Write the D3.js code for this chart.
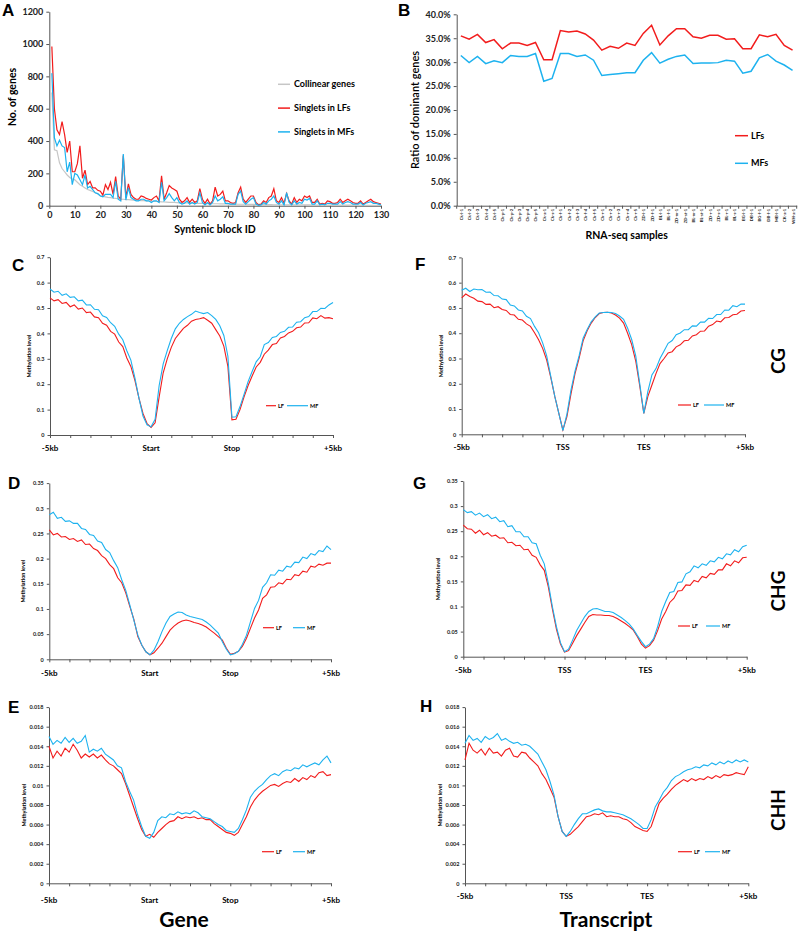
<!DOCTYPE html>
<html><head><meta charset="utf-8">
<script src="https://cdn.jsdelivr.net/npm/d3@7"></script>
<style>
body{margin:0;background:#fff}
text{font-family:Lato,'Open Sans',sans-serif}
.pl{font-family:'Liberation Sans',Arial,sans-serif;font-weight:bold;font-size:17px}
</style>
</head><body>
<svg id="c" width="800" height="932"></svg>
<script>
// ---------- Panel A data ----------
const blockIds = d3.range(1, 131);
const aXTicks = [0,10,20,30,40,50,60,70,80,90,100,110,120,130];
const aYTicks = [0,200,400,600,800,1000,1200];
const aCollinear = [700,345,340,265,230,210,190,175,165,160, 145,130,120,110,100,95,88,80,72,62,
 58,55,52,50,47,45,43,41,40,38, 37,36,35,34,33,32,31,30,29,28, 27,26,25,24,23,22,21,20,20,19,
 18,18,17,17,16,16,15,15,14,14, 13,13,13,12,12,12,11,11,11,10, 10,10,10,9,9,9,9,8,8,8,
 8,8,7,7,7,7,7,6,6,6, 6,6,6,6,5,5,5,5,5,5, 5,5,4,4,4,4,4,4,4,4, 4,3,3,3,3,3,3,3,3,3, 3,3,2,2,2,2,2,2,2,2];
const aLF = [985,600,470,440,520,440,330,400,210,210, 260,370,170,220,130,150,110,110,95,90,
 65,130,100,145,70,180,60,40,310,50, 135,70,50,40,40,60,55,45,40,35, 50,60,30,185,40,80,125,110,100,90,
 40,20,30,50,20,40,20,30,105,40, 15,40,10,30,115,60,70,90,30,30, 20,15,20,80,115,40,20,40,60,60,
 20,5,10,30,20,50,60,105,30,20, 50,15,75,30,10,50,20,40,30,60, 50,60,20,20,40,10,15,10,30,25,
 15,15,20,40,20,30,40,30,20,15, 15,30,10,20,30,40,25,20,15,10];
const aMF = [820,420,370,405,370,360,210,270,130,200, 190,160,130,190,110,120,100,80,75,60,
 55,70,70,70,50,150,40,30,320,35, 110,50,40,30,30,40,40,30,30,20, 30,30,20,145,30,50,75,50,30,50,
 20,10,15,30,10,20,10,20,80,20, 5,20,5,20,60,30,40,55,15,15, 10,10,10,70,90,25,10,25,40,50,
 10,2,5,20,10,30,40,60,20,10, 30,5,80,20,5,30,10,20,15,40, 35,45,10,10,30,5,10,5,15,15,
 10,10,10,25,10,20,25,20,10,10, 10,20,5,15,20,25,15,15,10,5];
const aSeriesNames = ["Collinear genes","Singlets in LFs","Singlets in MFs"];

// ---------- Panel B data ----------
const samples = ["Ck-l-1","Ck-l-2","Ck-l-3","Ck-l-4","Ck-l-5","Ck-p-1","Ck-p-2","Ck-p-3","Ck-p-4","Ck-p-5",
 "Ck-a-1","Ck-s-1","Ck-f-1","Ck-f-2","Ck-f-3","Ck-f-4","Ck-f-5","Ck-r-1","Ck-r-2","Ck-r-3",
 "Ck-r-4","Ck-r-5","ZD-l-1","ZD-f-1","BL-l-1","BL-f-1","ZD-m-1","ZD-st-1","BL-m-1","BL-st-1",
 "ZD-r-1","ZD-s-1","BL-r-1","BL-s-1","BG-l-1","DB-l-1","BG-f-1","DB-f-1","MB-l-1","CK-a-1","WH-a-1"];
const bLF = [35.5,34.8,35.8,34.1,34.7,32.8,34.0,34.0,33.5,34.1, 30.5,30.5,36.6,36.3,36.5,35.9,34.6,32.5,33.3,32.9,
 34.0,33.5,36.0,37.7,33.6,35.5,37.0,37.0,35.3,35.0, 35.6,35.6,34.8,34.9,32.8,32.8,35.7,35.3,35.8,33.5, 32.5];
const bMF = [31.4,29.9,31.2,29.7,30.3,29.9,31.4,31.2,31.2,31.8, 26.0,26.6,31.8,31.8,31.2,31.5,30.4,27.2,27.4,27.6,
 27.8,27.8,30.4,32.0,29.8,30.6,31.2,31.5,29.7,29.8, 29.8,29.9,30.4,30.2,27.7,28.1,30.9,31.6,30.2,29.4, 28.3];
const bYTicks = [0,5,10,15,20,25,30,35,40];
const bSeriesNames = ["LFs","MFs"];

// ---------- Methylation profiles (bins 0..140, every 2 bins) ----------
const binPos = d3.range(0, 141, 2);
const methXTicks = d3.range(0, 141, 10);
const geneLabels = ["-5kb","Start","Stop","+5kb"];
const transLabels = ["-5kb","TSS","TES","+5kb"];
const labelPos = [0, 50, 90, 140];
const cgTicks = [0,0.1,0.2,0.3,0.4,0.5,0.6,0.7];
const cgTickLabels = ["0","0.1","0.2","0.3","0.4","0.5","0.6","0.7"];
const chgTicks = [0,0.05,0.1,0.15,0.2,0.25,0.3,0.35];
const chgTickLabels = ["0","0.05","0.1","0.15","0.2","0.25","0.3","0.35"];
const chhTicks = [0,0.002,0.004,0.006,0.008,0.01,0.012,0.014,0.016,0.018];
const chhTickLabels = ["0","0.002","0.004","0.006","0.008","0.01","0.012","0.014","0.016","0.018"];

const cGeneLF = [.540,.528,.533,.518,.522,.505,.512,.496,.500,.482, .484,.465,.462,.440,.432,.408,.397,.366,.348,.303,
 .270,.215,.145,.085,.045,.030,.048,.150,.245,.300, .345,.380,.400,.420,.432,.448,.455,.458,.462,.452,
 .440,.415,.390,.350,.270,.060,.062,.100,.150,.195, .232,.268,.286,.318,.334,.356,.360,.382,.388,.402,
 .408,.422,.425,.441,.442,.461,.458,.470,.460,.462, .458];
const cGeneMF = [.575,.562,.566,.550,.556,.542,.544,.528,.531,.512, .513,.495,.493,.469,.463,.442,.428,.397,.375,.332,
 .295,.225,.145,.075,.040,.032,.062,.195,.280,.332, .380,.418,.440,.455,.466,.475,.488,.482,.478,.482,
 .470,.455,.430,.392,.310,.070,.072,.112,.160,.210, .250,.288,.308,.356,.364,.384,.388,.404,.408,.424,
 .425,.444,.446,.462,.466,.486,.486,.499,.498,.512, .522];
const fTransLF = [.540,.555,.545,.538,.527,.525,.514,.515,.501,.505, .494,.490,.474,.472,.455,.452,.437,.427,.402,.374,
 .340,.294,.225,.150,.083,.017,.070,.160,.240,.300, .370,.410,.440,.462,.478,.482,.483,.480,.472,.460,
 .440,.400,.355,.290,.190,.083,.150,.195,.240,.280, .300,.322,.327,.346,.354,.370,.372,.389,.394,.408,
 .409,.428,.434,.448,.445,.461,.462,.473,.475,.488, .490];
const fTransMF = [.570,.578,.565,.575,.572,.573,.562,.563,.549,.548, .535,.533,.512,.508,.492,.488,.467,.458,.427,.402,
 .362,.310,.230,.150,.083,.015,.080,.175,.250,.310, .380,.415,.445,.465,.480,.482,.483,.482,.478,.468,
 .455,.420,.375,.310,.200,.083,.170,.235,.260,.300, .330,.360,.371,.394,.401,.414,.414,.429,.428,.444,
 .444,.459,.458,.474,.474,.492,.491,.509,.505,.515, .515];
const dGeneLF = [.257,.247,.250,.243,.244,.238,.240,.234,.237,.228, .229,.220,.216,.206,.200,.188,.180,.162,.152,.132,
 .105,.080,.045,.028,.015,.009,.013,.022,.032,.045, .058,.066,.072,.076,.078,.076,.073,.071,.068,.064,
 .058,.052,.045,.038,.022,.010,.012,.016,.026,.042, .062,.082,.098,.121,.128,.143,.144,.152,.150,.159,
 .158,.168,.166,.175,.173,.185,.183,.189,.187,.191, .191];
const dGeneMF = [.287,.292,.280,.282,.274,.275,.270,.270,.260,.258, .248,.246,.235,.232,.218,.212,.196,.182,.158,.137,
 .108,.078,.048,.028,.015,.009,.018,.035,.055,.072, .085,.090,.094,.093,.088,.085,.083,.081,.079,.074,
 .068,.060,.052,.035,.020,.009,.011,.016,.030,.048, .075,.101,.117,.143,.152,.168,.167,.177,.175,.185,
 .183,.193,.192,.203,.200,.210,.207,.216,.214,.225, .218];
const gTransLF = [.262,.255,.254,.246,.252,.243,.247,.240,.242,.236, .237,.227,.228,.221,.222,.213,.214,.202,.198,.183,
 .172,.139,.095,.055,.025,.009,.012,.027,.042,.055, .068,.080,.084,.083,.083,.082,.082,.080,.076,.071,
 .066,.060,.053,.040,.025,.017,.022,.033,.052,.075, .090,.108,.116,.131,.132,.143,.142,.152,.149,.160,
 .157,.166,.164,.173,.173,.185,.181,.191,.187,.197, .198];
const gTransMF = [.293,.287,.289,.282,.286,.279,.283,.275,.278,.269, .271,.259,.261,.249,.249,.239,.239,.227,.225,.202,
 .185,.146,.100,.060,.028,.010,.015,.033,.052,.066, .080,.090,.095,.096,.093,.090,.090,.088,.083,.078,
 .072,.065,.055,.042,.030,.020,.025,.036,.060,.090, .110,.128,.130,.148,.149,.165,.169,.181,.177,.185,
 .182,.191,.189,.198,.195,.205,.203,.213,.209,.219, .222];
const eGeneLF = [.0140,.0128,.0135,.0130,.0138,.0134,.0142,.0136,.0128,.0132, .0129,.0132,.0128,.0131,.0126,.0122,.0120,.0116,.0112,.0102,
 .0090,.0078,.0066,.0055,.0048,.0050,.0047,.0052,.0056,.0060, .0063,.0064,.0068,.0066,.0068,.0067,.0068,.0066,.0067,.0065,
 .0065,.0061,.0058,.0055,.0052,.0051,.0049,.0052,.0060,.0068, .0078,.0085,.0090,.0094,.0097,.0100,.0101,.0099,.0102,.0104,
 .0103,.0107,.0104,.0108,.0106,.0110,.0108,.0113,.0114,.0110, .0111];
const eGeneMF = [.0150,.0142,.0146,.0143,.0149,.0144,.0148,.0143,.0145,.0151, .0134,.0137,.0135,.0138,.0132,.0129,.0126,.0120,.0118,.0104,
 .0094,.0085,.0070,.0058,.0048,.0046,.0052,.0064,.0068,.0067, .0071,.0070,.0073,.0071,.0072,.0071,.0074,.0072,.0068,.0067,
 .0066,.0063,.0060,.0058,.0054,.0053,.0052,.0056,.0065,.0075, .0088,.0094,.0098,.0101,.0106,.0110,.0112,.0110,.0114,.0116,
 .0115,.0118,.0117,.0121,.0119,.0121,.0123,.0121,.0126,.0130, .0123];
const hTransLF = [.0126,.0143,.0136,.0133,.0137,.0131,.0138,.0133,.0134,.0130, .0136,.0138,.0130,.0129,.0134,.0133,.0128,.0124,.0120,.0112,
 .0106,.0097,.0088,.0068,.0053,.0048,.0050,.0054,.0058,.0063, .0068,.0069,.0071,.0070,.0072,.0068,.0069,.0068,.0068,.0066,
 .0065,.0062,.0058,.0056,.0054,.0053,.0058,.0070,.0082,.0087, .0091,.0096,.0100,.0103,.0106,.0104,.0107,.0105,.0107,.0106,
 .0109,.0107,.0110,.0108,.0111,.0110,.0111,.0113,.0112,.0111, .0119];
const hTransMF = [.0143,.0151,.0146,.0148,.0144,.0150,.0147,.0149,.0153,.0146, .0148,.0145,.0143,.0144,.0141,.0142,.0140,.0136,.0132,.0124,
 .0116,.0104,.0090,.0068,.0053,.0048,.0053,.0060,.0066,.0071, .0071,.0073,.0075,.0076,.0074,.0073,.0073,.0072,.0071,.0070,
 .0068,.0066,.0063,.0060,.0056,.0056,.0065,.0078,.0085,.0093, .0098,.0105,.0109,.0111,.0114,.0116,.0117,.0119,.0118,.0121,
 .0120,.0123,.0121,.0124,.0122,.0125,.0123,.0126,.0124,.0126, .0124];
const methSeriesNames = ["LF","MF"];

// ---------- drawing ----------
const RED = "#f21c1c", BLUE = "#1db2ef", GRAY = "#c6c6c6", AX = "#555";
const svg = d3.select("#c");

function styleAxis(g, fs, weight) {
  g.select(".domain").attr("stroke", AX).attr("stroke-width", 1);
  g.selectAll(".tick line").attr("stroke", AX);
  g.selectAll(".tick text").attr("font-size", fs).attr("font-weight", weight || "bold")
    .attr("font-family", "Lato,'Open Sans',sans-serif").attr("fill", "#222");
}

// Panel A
(function () {
  const x = d3.scaleLinear().domain([0, 130]).range([49.3, 381]);
  const y = d3.scaleLinear().domain([0, 1200]).range([205.7, 11.7]);
  const g = svg.append("g");
  const gx = g.append("g").attr("transform", "translate(0,205.7)")
    .call(d3.axisBottom(x).tickValues(aXTicks).tickFormat(d3.format("d")).tickSize(3).tickSizeOuter(0).tickPadding(3));
  styleAxis(gx, 9);
  const gy = g.append("g").attr("transform", "translate(49.3,0)")
    .call(d3.axisLeft(y).tickValues(aYTicks).tickFormat(d3.format("d")).tickSize(3).tickSizeOuter(0).tickPadding(3));
  styleAxis(gy, 9);
  const line = d3.line().x((d, i) => x(blockIds[i])).y(d => y(d));
  [[aCollinear, GRAY], [aLF, RED], [aMF, BLUE]].forEach(([data, c]) => {
    g.append("path").datum(data).attr("d", line).attr("fill", "none").attr("stroke", c).attr("stroke-width", 1.2);
  });
  g.append("text").attr("transform", "translate(16,97) rotate(-90)").attr("text-anchor", "middle")
    .attr("font-size", 10.5).attr("font-weight", "bold").text("No. of genes");
  g.append("text").attr("x", 215).attr("y", 233).attr("text-anchor", "middle")
    .attr("font-size", 10.5).attr("font-weight", "bold").text("Syntenic block ID");
  const cols = [GRAY, RED, BLUE];
  aSeriesNames.forEach((n, i) => {
    const yy = 84.3 + i * 23.8;
    g.append("line").attr("x1", 278).attr("x2", 290).attr("y1", yy).attr("y2", yy).attr("stroke", cols[i]).attr("stroke-width", 1.5);
    g.append("text").attr("x", 294).attr("y", yy + 3).attr("font-size", 9).attr("font-weight", "bold").text(n);
  });
  svg.append("text").attr("class", "pl").attr("x", 2).attr("y", 16).text("A");
})();

// Panel B
(function () {
  const x = d3.scalePoint().domain(d3.range(samples.length)).range([456.7, 796.7]).padding(0.5);
  const y = d3.scaleLinear().domain([0, 40]).range([205.7, 14.3]);
  const g = svg.append("g");
  const gy = g.append("g").attr("transform", "translate(456.7,0)")
    .call(d3.axisLeft(y).tickValues(bYTicks).tickFormat(d => d.toFixed(1) + "%").tickSize(3).tickSizeOuter(0).tickPadding(3));
  styleAxis(gy, 9);
  const gx = g.append("g").attr("transform", "translate(0,205.7)")
    .call(d3.axisBottom(x).tickFormat(i => samples[i]).tickSize(0).tickSizeOuter(0));
  styleAxis(gx, 4.2);
  gx.selectAll(".tick text").attr("transform", "rotate(-90)").attr("text-anchor", "end")
    .attr("x", -3).attr("y", 0).attr("dy", "0.35em");
  const step = x.step();
  g.selectAll(".btick").data(d3.range(samples.length + 1)).join("line")
    .attr("x1", i => x.range()[0] + i * step).attr("x2", i => x.range()[0] + i * step)
    .attr("y1", 205.7).attr("y2", 208.7).attr("stroke", AX);
  const line = d3.line().x((d, i) => x(i)).y(d => y(d));
  [[bLF, RED], [bMF, BLUE]].forEach(([data, c]) => {
    g.append("path").datum(data).attr("d", line).attr("fill", "none").attr("stroke", c).attr("stroke-width", 1.5);
  });
  g.append("text").attr("transform", "translate(419,110) rotate(-90)").attr("text-anchor", "middle")
    .attr("font-size", 11).attr("font-weight", 600).text("Ratio of dominant genes");
  g.append("text").attr("x", 626.7).attr("y", 239).attr("text-anchor", "middle")
    .attr("font-size", 10.5).attr("font-weight", "bold").text("RNA-seq samples");
  [RED, BLUE].forEach((c, i) => {
    const yy = 135.7 + i * 27.6;
    g.append("line").attr("x1", 735).attr("x2", 748).attr("y1", yy).attr("y2", yy).attr("stroke", c).attr("stroke-width", 1.5);
    g.append("text").attr("x", 751).attr("y", yy + 3).attr("font-size", 9).attr("font-weight", "bold").text(bSeriesNames[i]);
  });
  svg.append("text").attr("class", "pl").attr("x", 398).attr("y", 16).text("B");
})();

function methPanel(o) {
  const x = d3.scaleLinear().domain([0, 140]).range([o.x0, o.x1]);
  const y = d3.scaleLinear().domain([0, o.ticks[o.ticks.length - 1]]).range([o.y0, o.yTop]);
  const g = svg.append("g");
  const gy = g.append("g").attr("transform", `translate(${o.x0},0)`)
    .call(d3.axisLeft(y).tickValues(o.ticks).tickFormat((d, i) => o.tickLabels[i]).tickSize(2.5).tickSizeOuter(0).tickPadding(3));
  styleAxis(gy, 5.5);
  const gx = g.append("g").attr("transform", `translate(0,${o.y0})`)
    .call(d3.axisBottom(x).tickValues(methXTicks).tickFormat("").tickSize(3).tickSizeOuter(0));
  styleAxis(gx, 5);
  g.selectAll(".xl").data(o.xLabels).join("text")
    .attr("x", (d, i) => x(labelPos[i])).attr("y", o.y0 + o.labDy).attr("text-anchor", "middle")
    .attr("font-size", 8).attr("font-weight", "bold").text(d => d);
  const line = d3.line().x((d, i) => x(binPos[i])).y(d => y(d));
  [[o.lf, RED], [o.mf, BLUE]].forEach(([data, c]) => {
    g.append("path").datum(data).attr("d", line).attr("fill", "none").attr("stroke", c).attr("stroke-width", 1.1);
  });
  g.append("text").attr("transform", `translate(${o.titleX},${(o.y0 + o.yTop) / 2 + 10}) rotate(-90)`).attr("text-anchor", "middle")
    .attr("font-size", 5.5).attr("font-weight", "bold").text("Methylation level");
  const L = o.leg;
  g.append("line").attr("x1", L.r0).attr("x2", L.r1).attr("y1", L.y).attr("y2", L.y).attr("stroke", RED).attr("stroke-width", 1.2);
  g.append("text").attr("x", L.r1 + 2).attr("y", L.y + 2).attr("font-size", 5.5).attr("font-weight", "bold").text(methSeriesNames[0]);
  g.append("line").attr("x1", L.b0).attr("x2", L.b1).attr("y1", L.y).attr("y2", L.y).attr("stroke", BLUE).attr("stroke-width", 1.2);
  g.append("text").attr("x", L.b1 + 2).attr("y", L.y + 2).attr("font-size", 5.5).attr("font-weight", "bold").text(methSeriesNames[1]);
  svg.append("text").attr("class", "pl").attr("x", o.pl[0]).attr("y", o.pl[1]).text(o.letter);
}

methPanel({letter: "C", pl: [12, 271], x0: 50, x1: 333, y0: 435, yTop: 257.2, ticks: cgTicks, tickLabels: cgTickLabels,
  xLabels: geneLabels, labDy: 16, lf: cGeneLF, mf: cGeneMF, titleX: 31, leg: {y: 405.7, r0: 266, r1: 276, b0: 287, b1: 308}});
methPanel({letter: "F", pl: [415, 270], x0: 461.7, x1: 745, y0: 434.3, yTop: 257.4, ticks: cgTicks, tickLabels: cgTickLabels,
  xLabels: transLabels, labDy: 16, lf: fTransLF, mf: fTransMF, titleX: 443, leg: {y: 405, r0: 678, r1: 691, b0: 704, b1: 724}});
methPanel({letter: "D", pl: [8, 489], x0: 49.3, x1: 331, y0: 659.3, yTop: 483.1, ticks: chgTicks, tickLabels: chgTickLabels,
  xLabels: geneLabels, labDy: 17, lf: dGeneLF, mf: dGeneMF, titleX: 25, leg: {y: 627.7, r0: 263, r1: 274, b0: 293, b1: 305}});
methPanel({letter: "G", pl: [413, 489], x0: 463.3, x1: 746.7, y0: 656.7, yTop: 481, ticks: chgTicks, tickLabels: chgTickLabels,
  xLabels: transLabels, labDy: 16, lf: gTransLF, mf: gTransMF, titleX: 440, leg: {y: 626, r0: 678, r1: 690, b0: 706, b1: 720}});
methPanel({letter: "E", pl: [8, 713], x0: 49, x1: 331, y0: 883.3, yTop: 707.1, ticks: chhTicks, tickLabels: chhTickLabels,
  xLabels: geneLabels, labDy: 20, lf: eGeneLF, mf: eGeneMF, titleX: 26, leg: {y: 851.7, r0: 262, r1: 274, b0: 293, b1: 305}});
methPanel({letter: "H", pl: [420, 712], x0: 465, x1: 748.3, y0: 883.3, yTop: 707.1, ticks: chhTicks, tickLabels: chhTickLabels,
  xLabels: transLabels, labDy: 16, lf: hTransLF, mf: hTransMF, titleX: 442, leg: {y: 851.7, r0: 678, r1: 692, b0: 705, b1: 720}});

[["CG", 361], ["CHG", 591], ["CHH", 810]].forEach(([t, cy]) => {
  svg.append("text").attr("transform", `translate(785,${cy}) rotate(-90)`).attr("text-anchor", "middle")
    .attr("font-size", 19).attr("font-weight", "bold").text(t);
});
svg.append("text").attr("x", 184).attr("y", 927).attr("text-anchor", "middle").attr("font-size", 21).attr("font-weight", "bold").text("Gene");
svg.append("text").attr("x", 606).attr("y", 927).attr("text-anchor", "middle").attr("font-size", 21).attr("font-weight", "bold").text("Transcript");
</script>
</body></html>
